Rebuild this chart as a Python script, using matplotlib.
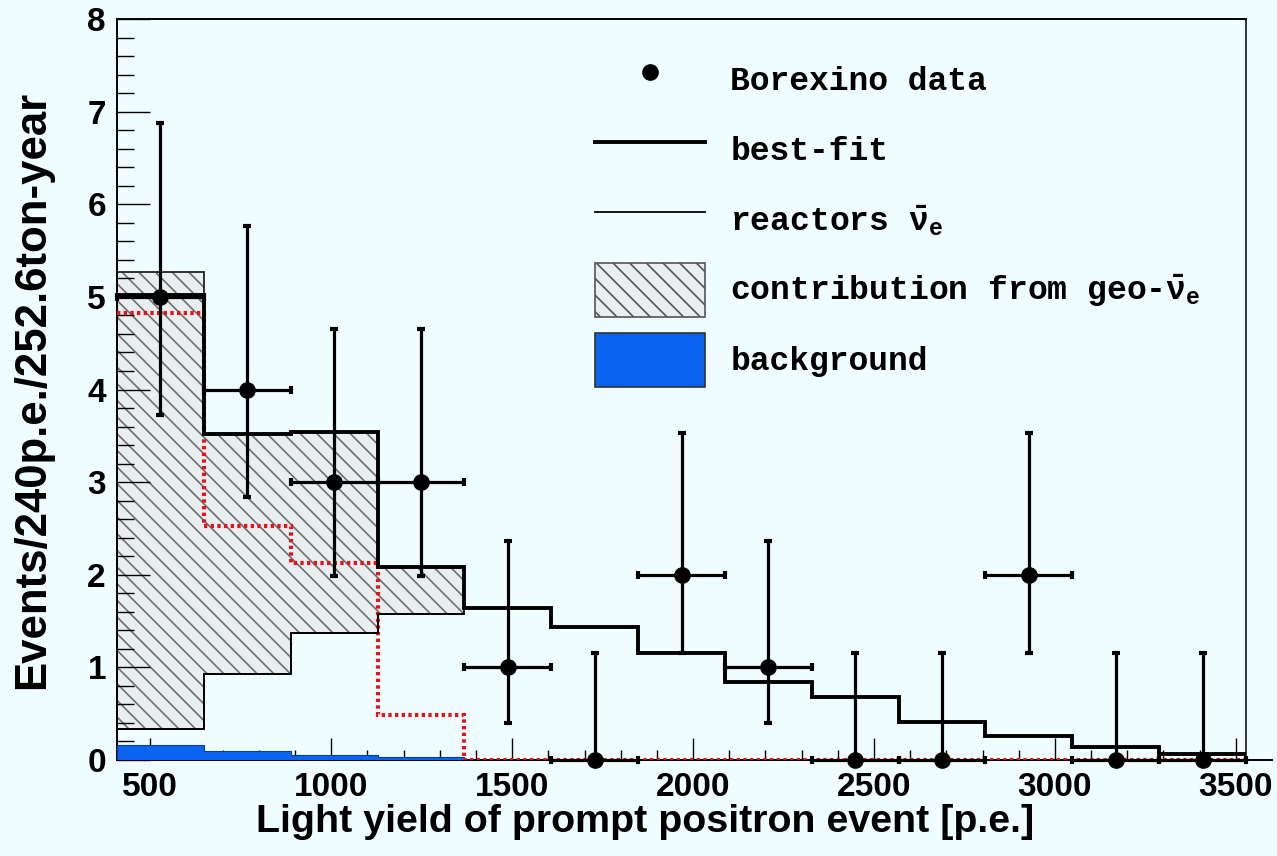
import numpy as np
import matplotlib.pyplot as plt
from matplotlib.lines import Line2D
from matplotlib.patches import Patch
from matplotlib.ticker import MultipleLocator

# bin edges in p.e. (240 p.e. per bin)
edges = [408, 648, 888, 1128, 1368, 1608, 1848, 2088, 2328, 2568, 2808, 3048, 3288, 3528]

# Borexino data with asymmetric errors
data_counts = [5, 4, 3, 3, 1, 0, 2, 1, 0, 0, 2, 0, 0]
data_err_lo = [1.27, 1.16, 1.01, 1.01, 0.60, 0, 0.85, 0.60, 0, 0, 0.85, 0, 0]
data_err_hi = [1.88, 1.76, 1.65, 1.65, 1.36, 1.16, 1.53, 1.36, 1.16, 1.16, 1.53, 1.16, 1.16]

# histograms
best_fit = [5.02, 3.52, 3.54, 2.08, 1.64, 1.44, 1.15, 0.84, 0.68, 0.41, 0.26, 0.14, 0.07]
reactors = [0.33, 0.93, 1.37, 1.58, 1.64, 1.44, 1.15, 0.84, 0.68, 0.41, 0.26, 0.14, 0.07]
geo_top = [5.27, 3.52, 3.54, 2.08]   # reactors + geo, first four bins
red_dotted = [4.83, 2.53, 2.13, 0.49, 0, 0, 0, 0, 0, 0, 0, 0, 0]
background = [0.16, 0.10, 0.05, 0.03, 0, 0, 0, 0, 0, 0, 0, 0, 0]

bg = '#f0fdfe'
hatch_bg = '#e9eff1'
blue = '#0a64f0'

plt.rcParams['hatch.linewidth'] = 1.2
plt.rcParams['mathtext.fontset'] = 'custom'
plt.rcParams['mathtext.rm'] = 'Liberation Mono:bold'
plt.rcParams['mathtext.it'] = 'Liberation Mono:bold'
plt.rcParams['mathtext.bf'] = 'Liberation Mono:bold'

fig = plt.figure(figsize=(12.77, 8.56), dpi=100, facecolor=bg)
ax = fig.add_axes([117 / 1277, 1 - 760 / 856, 1129 / 1277, 741 / 856])
ax.set_facecolor(bg)

edges = np.array(edges)
centers = (edges[:-1] + edges[1:]) / 2
half_w = np.diff(edges) / 2

# geo contribution stacked on reactors
n_geo = len(geo_top)
ax.stairs(geo_top, edges[:n_geo + 1], baseline=reactors[:n_geo], fill=True,
          facecolor=hatch_bg, edgecolor='#6e6e6e', linewidth=0, hatch='\\\\', zorder=1)
ax.stairs(geo_top, edges[:n_geo + 1], baseline=reactors[:n_geo], fill=False,
          color='#222222', linewidth=1.3, zorder=2)

# background
ax.stairs(background, edges, baseline=0, fill=True, facecolor=blue,
          edgecolor='#0a3fa0', linewidth=0.8, zorder=3)

# unlabeled red dotted curve
ax.stairs(red_dotted, edges, baseline=None, color='#e3141b', linewidth=3,
          linestyle=(0, (0.8, 0.8)), zorder=4)

# reactors and best-fit
ax.stairs(reactors, edges, baseline=None, color='k', linewidth=1.3, zorder=5)
ax.stairs(best_fit, edges, baseline=None, color='k', linewidth=2.8, zorder=6)

eb = ax.errorbar(centers, data_counts, xerr=half_w, yerr=[data_err_lo, data_err_hi],
                 fmt='o', color='k', ms=11, elinewidth=2.3, capsize=3.2, capthick=3,
                 zorder=10)
for a in eb.get_children():
    a.set_clip_on(False)

ax.set_xlim(edges[0], edges[-1])
ax.set_ylim(0, 8)
ax.spines['bottom'].set_bounds(edges[0], 3600)
for s in ax.spines.values():
    s.set_linewidth(1.4)
ax.spines['right'].set_linewidth(1.1)

ax.xaxis.set_major_locator(MultipleLocator(500))
ax.xaxis.set_minor_locator(MultipleLocator(100))
ax.yaxis.set_major_locator(MultipleLocator(1))
ax.yaxis.set_minor_locator(MultipleLocator(0.2))
ax.tick_params(axis='both', which='both', direction='in', top=False, right=False, width=1)
ax.tick_params(axis='y', which='major', length=24, pad=8)
ax.tick_params(axis='y', which='minor', length=12)
ax.tick_params(axis='x', which='major', length=16, pad=9)
ax.tick_params(axis='x', which='minor', length=7.5)
for lab in ax.get_xticklabels() + ax.get_yticklabels():
    lab.set_fontfamily('Liberation Sans')
    lab.set_fontweight('bold')
    lab.set_fontsize(24)

fig.text(645 / 1277, 1 - 822 / 856, 'Light yield of prompt positron event [p.e.]',
         ha='center', va='center', family='Liberation Sans', weight='bold', fontsize=28.4)
fig.text(33 / 1277, 1 - 390 / 856, 'Events/240p.e./252.6ton-year', rotation=90,
         ha='center', va='center', family='Liberation Sans', weight='bold', fontsize=31.5)

handles = [
    Line2D([], [], marker='o', color='k', ls='none', ms=11),
    Line2D([], [], color='k', lw=2.8),
    Line2D([], [], color='k', lw=1.3),
    Patch(facecolor=hatch_bg, edgecolor='#555555', hatch='\\\\', lw=1.2),
    Patch(facecolor=blue, edgecolor='#333333', lw=1.2),
]
labels = ['Borexino data', 'best-fit', r'reactors $\bar{\nu}_e$',
          r'contribution from geo-$\bar{\nu}_e$', 'background']
ax.legend(handles, labels, loc='upper left', bbox_to_anchor=(595 / 1277, 1 - 53 / 856),
          bbox_transform=fig.transFigure, frameon=False, borderpad=0, borderaxespad=0,
          handlelength=3.33, handleheight=2.14, handletextpad=0.76, labelspacing=0.48,
          prop={'family': 'Liberation Mono', 'weight': 'bold', 'size': 23.8})

fig.savefig('out.png', dpi=100, facecolor=bg)
